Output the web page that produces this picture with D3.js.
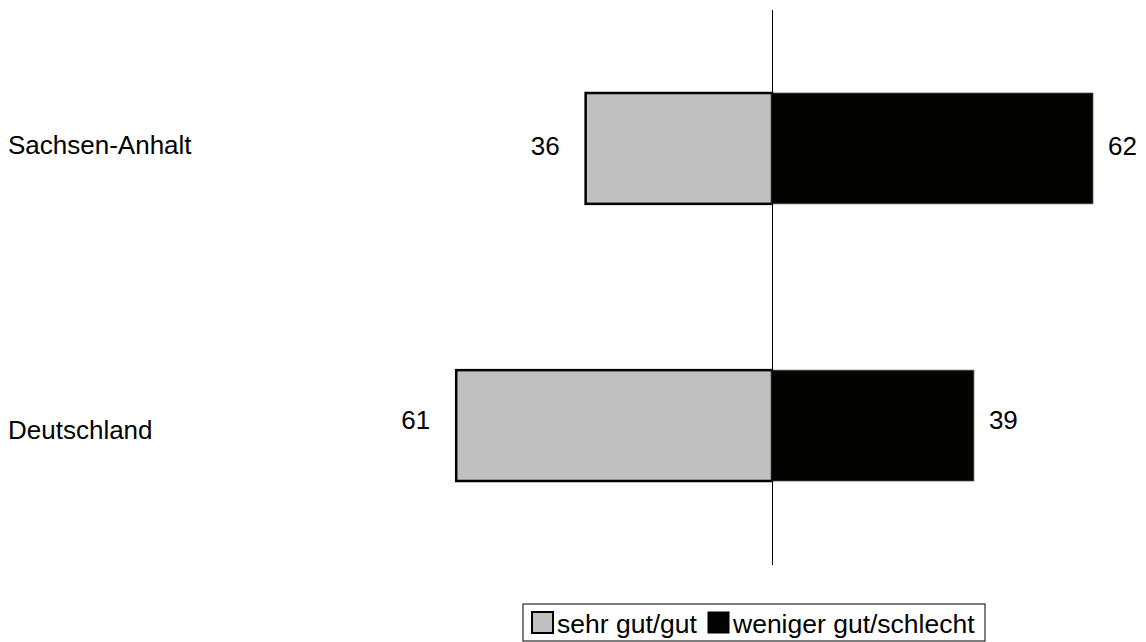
<!DOCTYPE html>
<html>
<head>
<meta charset="utf-8">
<script src="https://cdn.jsdelivr.net/npm/d3@7"></script>
<style>
  body { margin: 0; background: #fff; }
  svg text { font-family: "Liberation Sans", Arial, sans-serif; fill: #000; }
</style>
</head>
<body>
<div id="chart"></div>
<script>
// Data
var categories = ['Sachsen-Anhalt', 'Deutschland'];
var goodValues = [36, 61];   // sehr gut/gut (left)
var badValues = [62, 39];    // weniger gut/schlecht (right)
var seriesNames = ['sehr gut/gut', 'weniger gut/schlecht'];

var width = 1146, height = 642;
var colors = ['#c0c0c0', '#030300'];
var fontSize = '26px';

var svg = d3.select('#chart').append('svg')
    .attr('width', width)
    .attr('height', height);

// Scales setup
var xScale = d3.scaleLinear().domain([0, 100]).range([772, 772 + 517.7]);
var yScale = d3.scaleBand().domain(categories).range([93, 481]).paddingInner(0.6).paddingOuter(0);
var catLabelY = d3.scalePoint().domain(categories).range([145, 430]);
var valLabelY = d3.scalePoint().domain(categories).range([146, 420]);

var rows = categories.map(function(c, i) {
    return {cat: c, good: goodValues[i], bad: badValues[i]};
});

// left bars
svg.selectAll('rect.good').data(rows).enter().append('rect')
    .attr('class', 'good')
    .attr('x', function(d) { return xScale(-d.good); })
    .attr('y', function(d) { return yScale(d.cat); })
    .attr('width', function(d) { return xScale(0) - xScale(-d.good); })
    .attr('height', yScale.bandwidth())
    .attr('fill', colors[0])
    .attr('stroke', '#000')
    .attr('stroke-width', 2.5);

// right bars
svg.selectAll('rect.bad').data(rows).enter().append('rect')
    .attr('class', 'bad')
    .attr('x', xScale(0))
    .attr('y', function(d) { return yScale(d.cat); })
    .attr('width', function(d) { return xScale(d.bad) - xScale(0); })
    .attr('height', yScale.bandwidth())
    .attr('fill', colors[1])
    .attr('stroke', '#555')
    .attr('stroke-width', 0.8);

// zero line
svg.append('line')
    .attr('x1', xScale(0) + 0.5).attr('x2', xScale(0) + 0.5)
    .attr('y1', 10).attr('y2', 565)
    .attr('stroke', '#000')
    .attr('stroke-width', 1);

// category labels
svg.selectAll('text.cat').data(rows).enter().append('text')
    .attr('class', 'cat')
    .attr('x', 8)
    .attr('y', function(d) { return catLabelY(d.cat); })
    .attr('dy', '0.36em')
    .style('font-size', fontSize)
    .text(function(d) { return d.cat; });

// value labels
svg.selectAll('text.gv').data(rows).enter().append('text')
    .attr('x', function(d) { return xScale(-d.good) - 26; })
    .attr('y', function(d) { return valLabelY(d.cat); })
    .attr('dy', '0.36em')
    .attr('text-anchor', 'end')
    .style('font-size', fontSize)
    .text(function(d) { return d.good; });

svg.selectAll('text.bv').data(rows).enter().append('text')
    .attr('x', function(d) { return xScale(d.bad) + 15; })
    .attr('y', function(d) { return valLabelY(d.cat); })
    .attr('dy', '0.36em')
    .style('font-size', fontSize)
    .text(function(d) { return d.bad; });

// legend
var legend = svg.append('g').attr('transform', 'translate(523,604)');
legend.append('rect')
    .attr('width', 462).attr('height', 37)
    .attr('fill', '#fff').attr('stroke', '#000').attr('stroke-width', 1);

var legendX = [9, 185];
seriesNames.forEach(function(name, i) {
    legend.append('rect')
        .attr('x', legendX[i]).attr('y', 8)
        .attr('width', 21).attr('height', 21)
        .attr('fill', colors[i])
        .attr('stroke', '#000')
        .attr('stroke-width', i === 0 ? 2 : 1);
    legend.append('text')
        .attr('x', legendX[i] + 25)
        .attr('y', 29)
        .style('font-size', '26.5px')
        .text(name);
});
</script>
</body>
</html>
